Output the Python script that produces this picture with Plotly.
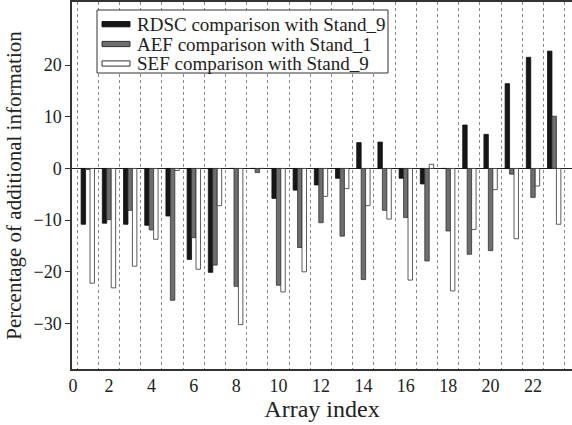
import plotly.graph_objects as go

array_index = list(range(1, 24))
rdsc = [-10.8, -10.6, -10.8, -11.0, -9.2, -17.6, -20.1, 0, 0, -5.8, -4.2, -3.2,
        -1.9, 5.0, 5.1, -1.9, -3.0, 0, 8.4, 6.6, 16.4, 21.5, 22.7]
aef = [-0.2, -9.9, -8.1, -11.9, -25.5, -13.4, -18.7, -22.8, -0.8, -22.6, -15.3, -10.5,
       -13.1, -21.5, -8.1, -9.5, -17.9, -12.1, -16.6, -15.9, -1.1, -5.6, 10.1]
sef = [-22.2, -23.1, -18.9, -13.7, -0.4, -19.5, -7.2, -30.2, 0, -23.9, -20.0, -5.4,
       -3.9, -7.2, -9.8, -21.6, 0.8, -23.7, -11.8, -4.1, -13.6, -3.4, -10.8]
series_names = ["RDSC comparison with Stand_9", "AEF comparison with Stand_1",
                "SEF comparison with Stand_9"]
series_fill = ["#161616", "#6e6e6e", "#ffffff"]
series_edge = ["#111111", "#333333", "#333333"]
x_tick_vals = [0.3, 2, 4, 6, 8, 10, 12, 14, 16, 18, 20, 22]
x_tick_text = ["0", "2", "4", "6", "8", "10", "12", "14", "16", "18", "20", "22"]
y_ticks = [-30, -20, -10, 0, 10, 20]

FONT = "Liberation Serif, Times New Roman, serif"
W, H = 572, 425
ML, MR, MT, MB = 72, 0, 2, 56
PW, PH = W - ML - MR, H - MT - MB


def px_x(p):
    return (p - ML) / PW


def px_y(p):
    return (H - MB - p) / PH


fig = go.Figure()
for vals, name, fill, edge in zip([rdsc, aef, sef], series_names, series_fill, series_edge):
    fig.add_trace(go.Bar(x=array_index, y=vals, name=name, showlegend=False,
                         marker=dict(color=fill, line=dict(color=edge, width=0.8))))

# legend drawn as a boxed key (paper coordinates)
shapes = [dict(type="rect", xref="paper", yref="paper",
               x0=px_x(97), x1=px_x(388), y0=px_y(73), y1=px_y(10),
               line=dict(color="#333", width=1), fillcolor="white", layer="above")]
annotations = []
row_centers = [24.2, 44.0, 63.5]
for name, fill, edge, cy in zip(series_names, series_fill, series_edge, row_centers):
    shapes.append(dict(type="rect", xref="paper", yref="paper",
                       x0=px_x(102), x1=px_x(130), y0=px_y(cy + 2.6), y1=px_y(cy - 2.6),
                       line=dict(color=edge, width=1), fillcolor=fill, layer="above"))
    annotations.append(dict(text=name, xref="paper", yref="paper",
                            x=px_x(135), y=px_y(cy), xanchor="left", yanchor="middle",
                            showarrow=False,
                            font=dict(family=FONT, size=19, color="#222")))

fig.update_layout(
    width=W, height=H,
    margin=dict(l=ML, r=MR, t=MT, b=MB),
    plot_bgcolor="white", paper_bgcolor="white",
    barmode="group", bargap=0.37, bargroupgap=0.0,
    font=dict(family=FONT, size=18, color="#222"),
    showlegend=False,
    shapes=shapes, annotations=annotations,
    xaxis=dict(range=[0.255, 23.84], tickvals=x_tick_vals, ticktext=x_tick_text,
               showgrid=False, zeroline=False, showline=True, linecolor="#333",
               linewidth=1.5, mirror=True, ticks="", automargin=False,
               tickfont=dict(family=FONT, size=18, color="#222"),
               title=dict(text="Array index", font=dict(family=FONT, size=24, color="#222"),
                          standoff=0),
               minor=dict(tick0=0.5, dtick=1, showgrid=True, gridcolor="#8a8a8a",
                          griddash="dot", gridwidth=1, ticks="")),
    yaxis=dict(range=[-38.8, 32.2], tickvals=y_ticks, showgrid=False,
               zeroline=True, zerolinecolor="#222", zerolinewidth=1.2,
               showline=True, linecolor="#333", linewidth=1.5, mirror=False,
               ticks="outside", ticklen=5, tickcolor="#333", automargin=False,
               tickfont=dict(family=FONT, size=18, color="#222"),
               title=dict(text="Percentage of additional information",
                          font=dict(family=FONT, size=21, color="#222"), standoff=6)),
)

fig.write_html("out.html", config={"displayModeBar": False},
               post_script="document.body.style.margin='0px';")
